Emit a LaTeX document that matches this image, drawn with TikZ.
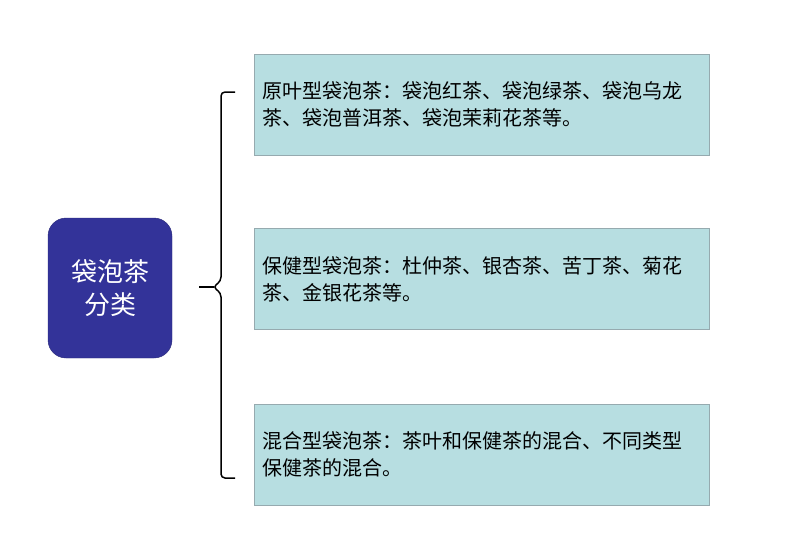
\documentclass[tikz,border=0pt]{standalone}
\usepackage{fontspec}
\setmainfont{Noto Sans CJK SC}
\usepackage{tikz}
\tikzset{
  box_font/.style = {font=\fontsize{20}{27}\selectfont},
  title_font/.style = {font=\fontsize{26}{33}\selectfont},
  kind_fill/.style = {fill={rgb,255:red,183;green,222;blue,225}},
  cat_fill/.style = {fill={rgb,255:red,51;green,51;blue,153}}
}
\tikzset{
  category/.style = {title_font, cat_fill, draw={rgb,255:red,40;green,40;blue,120}, text=white, rounded corners=18,
    minimum width=124, minimum height=140, align=center},
  kind/.style = {box_font, kind_fill, draw={rgb,255:red,150;green,170;blue,175}, line width=1,
    minimum width=455, minimum height=101, text width=439, inner sep=8, align=left},
  brace/.style = {line width=1.5, rounded corners=4}
}
\usetikzlibrary{positioning, calc}
\begin{document}
\begin{tikzpicture}[x=1pt, y=-1pt]
    \useasboundingbox (0,0) rectangle (800,541);

    % Category
    \node[category] (cat) at (110,288) {袋泡茶\\分类};

    % Kinds
    \node[kind] (k1) at (481.5,104.5) {
        原叶型袋泡茶：袋泡红茶、袋泡绿茶、袋泡乌龙\\
        茶、袋泡普洱茶、袋泡茉莉花茶等。
        };
    \node[kind] (k2) at (481.5,279) {
        保健型袋泡茶：杜仲茶、银杏茶、苦丁茶、菊花\\
        茶、金银花茶等。
        };
    \node[kind] (k3) at (481.5,454.5) {
        混合型袋泡茶：茶叶和保健茶的混合、不同类型\\
        保健茶的混合。
        };

    % Brace
    \coordinate (b_top) at (235,92);
    \coordinate (b_bot) at (235,478);
    \coordinate (b_tip) at (199,287);
    \draw[brace] (b_top)--(221,92)--(221,281)--(213,287)--(221,293)--(221,478)--(b_bot);
    \draw[line width=1.5] (b_tip)--(214,287);
\end{tikzpicture}
\end{document}
